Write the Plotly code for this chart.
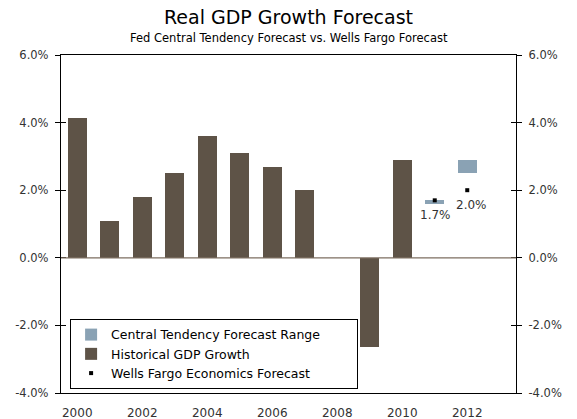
import plotly.graph_objects as go

years = [2000, 2001, 2002, 2003, 2004, 2005, 2006, 2007, 2008, 2009, 2010]
gdp = [4.15, 1.1, 1.8, 2.5, 3.6, 3.1, 2.7, 2.0, 0.0, -2.65, 2.9]

fc_years = [2011, 2012]
ct_low = [1.6, 2.5]
ct_high = [1.7, 2.9]
wf_fc = [1.7, 2.0]
wf_labels = ["1.7%", "2.0%"]

xticks = [2000, 2002, 2004, 2006, 2008, 2010, 2012]
yticks = [-4, -2, 0, 2, 4, 6]
ytick_text = ["-4.0%", "-2.0%", "0.0%", "2.0%", "4.0%", "6.0%"]

BROWN = "#5E5347"
BLUE = "#8AA2B4"
FONT = "DejaVu Sans"
TXT = "#333333"
PAD = "\u00a0" * 8

fig = go.Figure()
fig.add_trace(go.Bar(
    x=fc_years, y=[h - l for h, l in zip(ct_high, ct_low)], base=ct_low,
    width=0.58, marker=dict(color=BLUE, line=dict(width=0)),
    name="Central Tendency Forecast Range" + PAD))
fig.add_trace(go.Bar(
    x=years, y=gdp, width=0.58, marker=dict(color=BROWN, line=dict(width=0)),
    name="Historical GDP Growth"))
fig.add_trace(go.Scatter(
    x=fc_years, y=wf_fc, mode="markers",
    marker=dict(symbol="square", size=4, color="black"),
    name="Wells Fargo Economics Forecast"))

for xv, yv, t in zip(fc_years, wf_fc, wf_labels):
    fig.add_annotation(x=xv, y=yv, text=t, showarrow=False, yshift=-15,
                       xshift=4 if xv == 2012 else 1,
                       font=dict(family=FONT, size=12, color=TXT))

fig.add_annotation(xref="paper", yref="paper", x=0.5, y=1, yshift=38,
                   xanchor="center", yanchor="middle", showarrow=False,
                   text="Real GDP Growth Forecast",
                   font=dict(family=FONT, size=19, color="black"))
fig.add_annotation(xref="paper", yref="paper", x=0.5, y=1, yshift=17,
                   xanchor="center", yanchor="middle", showarrow=False,
                   text="Fed Central Tendency Forecast vs. Wells Fargo Forecast",
                   font=dict(family=FONT, size=11.5, color="black"))

yax_common = dict(range=[-4, 6], tickvals=yticks, ticktext=ytick_text,
                  showgrid=False, zeroline=False, automargin=False,
                  showline=True, linecolor="black", linewidth=1.3,
                  tickcolor="black", ticklen=5, tickwidth=1)

fig.update_layout(
    width=577, height=419,
    margin=dict(l=61, r=61, t=55, b=26),
    paper_bgcolor="white", plot_bgcolor="white",
    barmode="overlay", bargap=0,
    font=dict(family=FONT, size=11, color=TXT),
    xaxis=dict(range=[1999.5, 2013.5], tickvals=xticks, ticks="", showgrid=False,
               zeroline=False, showline=True, linecolor="black", linewidth=1.3,
               mirror=True, tickfont=dict(size=12, color=TXT), ticklabelstandoff=8,
               automargin=False),
    yaxis=dict(**yax_common, ticks="outside",
               tickfont=dict(size=11.5, color=TXT), ticklabelstandoff=4),
    yaxis2=dict(**yax_common, ticks="outside",
                overlaying="y", side="right", anchor="x",
                tickfont=dict(size=11.5, color=TXT), ticklabelstandoff=4),
    yaxis3=dict(**yax_common, ticks="inside", showticklabels=False,
                overlaying="y", side="left", anchor="x"),
    yaxis4=dict(**yax_common, ticks="inside", showticklabels=False,
                overlaying="y", side="right", anchor="x"),
    legend=dict(x=0.02, y=0.219, xanchor="left", yanchor="top",
                bordercolor="black", borderwidth=1, bgcolor="white",
                font=dict(family=FONT, size=12.5, color="black"),
                tracegroupgap=0, itemsizing="trace"),
    showlegend=True,
)

for ya in ["y2", "y3", "y4"]:
    fig.add_trace(go.Scatter(x=[2000], y=[0], yaxis=ya, mode="markers",
                             marker=dict(opacity=0), showlegend=False, hoverinfo="skip"))

fig.add_hline(y=0, line=dict(color="#7D6E60", width=1.3), layer="above")

fig.write_html("out.html")
